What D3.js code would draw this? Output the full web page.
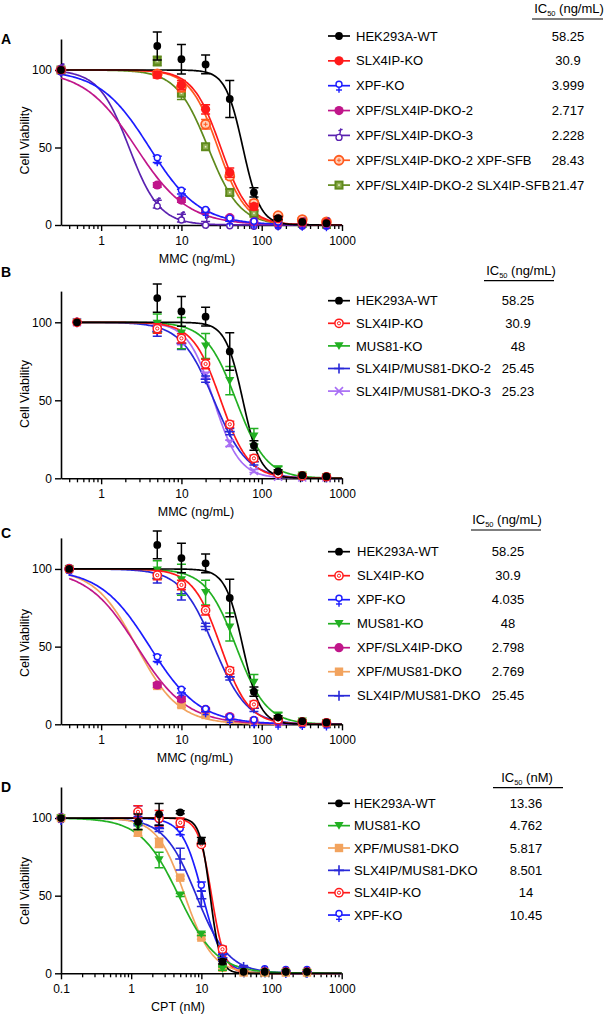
<!DOCTYPE html>
<html><head><meta charset="utf-8">
<script src="https://cdn.jsdelivr.net/npm/d3@7"></script>
<style>
body{margin:0;background:#fff}
svg{display:block}
text{font-family:"Liberation Sans",Arial,Helvetica,sans-serif;fill:#000}
</style>
</head><body>
<svg id="chart" width="606" height="1014"></svg>
<script>
// ---------------- DATA ----------------
// Panel A (MMC, ng/mL)
const doseA = [0.316, 5, 10, 20, 40, 80, 160, 320, 640];
const namesA = ["HEK293A-WT","SLX4IP-KO","XPF-KO","XPF/SLX4IP-DKO-2","XPF/SLX4IP-DKO-3","XPF/SLX4IP-DKO-2 XPF-SFB","XPF/SLX4IP-DKO-2 SLX4IP-SFB"];
const ic50A = [58.25, 30.9, 3.999, 2.717, 2.228, 28.43, 21.47];
const ic50TextA = ["58.25","30.9","3.999","2.717","2.228","28.43","21.47"];
const hillA = [4, 2.5, 1.4, 1.35, 2.3, 2.5, 2.2];
const valuesA = [
  [100, 115.5, 107, 103.6, 81.3, 21, 4.5, 2, 1.2],
  [100, 96.8, 90.3, 74.6, 33.8, 11.8, 4, 2, 1.5],
  [100, 42.4, 21.5, 9, 3.5, 1.5, 1, 0.8, 0.5],
  [100, 25.8, 16.1, 9, 4.7, 2.1, 1.2, 1, 0.8],
  [100, 13.5, 4.5, 1.2, 0.8, 0.5, 0.5, 0.5, 0.5],
  [100, 97.5, 89, 65, 31.5, 14, 6, 3.5, 2],
  [100, 105.8, 85, 50.5, 21, 7.5, 2.5, 1, 0.5]
];
const errorsA = [
  [0, 9, 9.5, 6, 12, 3, 1, 0.5, 0.5],
  [0, 2, 3, 3, 3, 2, 1, 0.5, 0.5],
  [1, 2, 1.5, 1, 1, 0.5, 0.5, 0.5, 0.5],
  [0, 1.5, 1.5, 1, 1, 0.5, 0.5, 0.5, 0.5],
  [0, 2.5, 2.5, 1, 0.5, 0.5, 0.5, 0.5, 0.5],
  [0, 2, 3, 3, 2, 2, 1, 1, 0.5],
  [0, 3, 4, 2, 2, 1.5, 1, 0.5, 0.5]
];

// Panel B (MMC, ng/mL)
const doseB = [0.5, 5, 10, 20, 40, 80, 160, 320, 640];
const namesB = ["HEK293A-WT","SLX4IP-KO","MUS81-KO","SLX4IP/MUS81-DKO-2","SLX4IP/MUS81-DKO-3"];
const ic50B = [58.25, 30.9, 48, 25.45, 25.23];
const ic50TextB = ["58.25","30.9","48","25.45","25.23"];
const hillB = [4, 2.5, 2.3, 2.1, 2.7];
const valuesB = [
  [100, 115.5, 107, 103.6, 81.3, 21, 4.5, 2, 1.2],
  [100, 96, 89.7, 73.3, 34.6, 12.8, 3, 1.5, 1],
  [100, 99.3, 93, 84.8, 62.6, 27, 6, 2, 1],
  [100, 94, 86.5, 63.5, 29.9, 10.6, 2.5, 1, 0.5],
  [100, 97, 88.6, 66, 22.4, 4.7, 1, 0.5, 0.5]
];
const errorsB = [
  [0, 9, 9.5, 6, 12, 3, 1, 0.5, 0.5],
  [0, 3, 3, 3, 2, 2, 1, 0.5, 0.5],
  [0, 6, 10, 8, 9, 5, 1.5, 1, 0.5],
  [0, 3, 4, 2, 2, 2, 1, 0.5, 0.5],
  [0, 2, 3, 2, 2, 1, 0.5, 0.5, 0.5]
];

// Panel C (MMC, ng/mL)
const doseC = [0.4, 5, 10, 20, 40, 80, 160, 320, 640];
const namesC = ["HEK293A-WT","SLX4IP-KO","XPF-KO","MUS81-KO","XPF/SLX4IP-DKO","XPF/MUS81-DKO","SLX4IP/MUS81-DKO"];
const ic50C = [58.25, 30.9, 4.035, 48, 2.798, 2.769, 25.45];
const ic50TextC = ["58.25","30.9","4.035","48","2.798","2.769","25.45"];
const hillC = [4, 2.5, 1.4, 2.3, 1.4, 1.65, 2.1];
const valuesC = [
  [100, 115.5, 107, 103.6, 81.3, 21, 4.5, 2, 1.2],
  [100, 96, 89.7, 73.3, 34.6, 12.8, 3, 1.5, 1],
  [100, 42.5, 21.6, 9, 4, 2, 1, 0.8, 0.5],
  [100, 99.3, 93, 84.8, 62.6, 27, 6, 2, 1],
  [100, 25.3, 16.3, 9.6, 5, 2.5, 1.5, 1, 0.8],
  [100, 24.7, 12.4, 6, 3, 2, 1.5, 1, 0.8],
  [100, 94, 84, 63, 30.5, 10.3, 2.5, 1, 0.5]
];
const errorsC = [
  [0, 9, 9.5, 6, 12, 3, 1, 0.5, 0.5],
  [0, 3, 3, 3, 2, 2, 1, 0.5, 0.5],
  [1, 2, 1.5, 1, 1, 0.5, 0.5, 0.5, 0.5],
  [0, 6, 10, 8, 9, 5, 1.5, 1, 0.5],
  [0, 1.5, 1.5, 1, 1, 0.5, 0.5, 0.5, 0.5],
  [0, 1.5, 1.5, 1, 1, 0.5, 0.5, 0.5, 0.5],
  [0, 3, 4, 2, 2, 2, 1, 0.5, 0.5]
];

// Panel D (CPT, nM)
const doseD = [0.1, 1.25, 2.5, 5, 10, 20, 40, 80, 160, 320];
const namesD = ["HEK293A-WT","MUS81-KO","XPF/MUS81-DKO","SLX4IP/MUS81-DKO","SLX4IP-KO","XPF-KO"];
const ic50D = [13.36, 4.762, 5.817, 8.501, 14, 10.45];
const ic50TextD = ["13.36","4.762","5.817","8.501","14","10.45"];
const hillD = [6, 1.6, 2.2, 1.9, 4.7, 3];
const valuesD = [
  [100, 97.6, 102.4, 103.7, 85.4, 7.5, 1, 1, 1, 1],
  [100, 94.4, 73, 50.4, 25.3, 3, 1, 0.5, 0.5, 0.5],
  [100, 90.5, 84, 61.6, 23, 3.6, 0.5, 0.5, 0.5, 0.5],
  [100, 98, 93.3, 73.6, 48, 10, 4, 2, 1.5, 1],
  [100, 104, 99.8, 97, 83, 15.5, 2, 1, 1, 1],
  [100, 102, 98, 92.3, 55.8, 15, 2, 2, 1.5, 1.5]
];
const errorsD = [
  [0, 5, 7, 1, 2, 1.5, 0.5, 0.5, 0.5, 0.5],
  [0, 2, 5, 1, 1, 1, 0.5, 0.5, 0.5, 0.5],
  [0, 2, 3, 1, 1, 1, 0.5, 0.5, 0.5, 0.5],
  [0, 3, 2, 7, 5, 2, 1, 0.5, 0.5, 0.5],
  [0, 4, 5, 3, 1, 2, 0.5, 0.5, 0.5, 0.5],
  [0, 6, 4, 3, 3, 2, 0.5, 0.5, 0.5, 0.5]
];

const xTicksMMC = [1, 10, 100, 1000];
const xTicksCPT = [0.1, 1, 10, 100, 1000];
const yTicks = [0, 50, 100];

// ---------------- STYLES ----------------
const colorsA = ["#000000","#ff1a1a","#1c1cff","#c0168a","#5a22b0","#ff5a1f","#5f8a1c"];
const markersA = ["dot","dotL","female","dotL","male","ringDot","squareDot"];
const colorsB = ["#000000","#ff1a1a","#22b022","#2828d8","#a86ef5"];
const markersB = ["dot","ringBar","tri","plus","x"];
const colorsC = ["#000000","#ff1a1a","#1c1cff","#22b022","#c0168a","#f2a35e","#2828d8"];
const markersC = ["dot","ringBar","female","tri","dotL","square","plus"];
const colorsD = ["#000000","#22b022","#f2a35e","#2828d8","#ff1a1a","#1c1cff"];
const markersD = ["dot","tri","square","plus","ringBar","female"];

// ---------------- LAYOUT ----------------
const panels = [
  {letter:"A", letterY:44, dose:doseA, names:namesA, ic50:ic50A, ic50Text:ic50TextA, hill:hillA, values:valuesA, errors:errorsA,
   colors:colorsA, markers:markersA, xDomain:[Math.pow(10,-0.5),1000], xRight:342, xTicks:xTicksMMC,
   y0:225, yTop:39, xTitle:"MMC (ng/mL)", xTitleX:197, yTitleY:140.5,
   unit:" (ng/mL)", headX:569, headY:13, lineX1:532, lineX2:603, lineY:19, valX:568, textX:356, legY0:36, legDy:24.85},
  {letter:"B", letterY:277, dose:doseB, names:namesB, ic50:ic50B, ic50Text:ic50TextB, hill:hillB, values:valuesB, errors:errorsB,
   colors:colorsB, markers:markersB, xDomain:[Math.pow(10,-0.5),1000], xRight:342, xTicks:xTicksMMC,
   y0:478.3, yTop:291.1, xTitle:"MMC (ng/mL)", xTitleX:196, yTitleY:394,
   unit:" (ng/mL)", headX:521, headY:275, lineX1:484, lineX2:554, lineY:280.7, valX:518, textX:356, legY0:300.7, legDy:22.6},
  {letter:"C", letterY:538, dose:doseC, names:namesC, ic50:ic50C, ic50Text:ic50TextC, hill:hillC, values:valuesC, errors:errorsC,
   colors:colorsC, markers:markersC, xDomain:[Math.pow(10,-0.5),1000], xRight:342, xTicks:xTicksMMC,
   y0:724.3, yTop:537.9, xTitle:"MMC (ng/mL)", xTitleX:195, yTitleY:643,
   unit:" (ng/mL)", headX:507, headY:524, lineX1:471, lineX2:541, lineY:530, valX:508, textX:357, legY0:551.7, legDy:24},
  {letter:"D", letterY:792, dose:doseD, names:namesD, ic50:ic50D, ic50Text:ic50TextD, hill:hillD, values:valuesD, errors:errorsD,
   colors:colorsD, markers:markersD, xDomain:[0.1,1000], xRight:341.7, xTicks:xTicksCPT,
   y0:973.3, yTop:787, xTitle:"CPT (nM)", xTitleX:178, yTitleY:891,
   unit:" (nM)", headX:527, headY:782, lineX1:493, lineX2:563, lineY:787.7, valX:526, textX:354, legY0:803.3, legDy:22.35}
];

const svg = d3.select("#chart");
const X0 = 61;

function marker(g, type, c, x, y) {
  const s = g.append("g").attr("transform", `translate(${x},${y})`);
  switch (type) {
    case "dot": s.append("circle").attr("r", 3.9).attr("fill", c); break;
    case "dotL": s.append("circle").attr("r", 4.6).attr("fill", c); break;
    case "ringBar":
      s.append("circle").attr("r", 4.1).attr("fill", "#fff").attr("stroke", c).attr("stroke-width", 1.5);
      s.append("circle").attr("r", 1.6).attr("fill", "none").attr("stroke", c).attr("stroke-width", 1);
      break;
    case "ringDot":
      s.append("circle").attr("r", 4.5).attr("fill", "#ffd0b8").attr("stroke", c).attr("stroke-width", 1.8);
      s.append("line").attr("x1", -2).attr("x2", 2).attr("stroke", c).attr("stroke-width", 1);
      s.append("line").attr("y1", -2).attr("y2", 2).attr("stroke", c).attr("stroke-width", 1);
      break;
    case "female":
      s.append("circle").attr("cy", -1.5).attr("r", 3).attr("fill", "#fff").attr("stroke", c).attr("stroke-width", 1.4);
      s.append("line").attr("y1", 1.5).attr("y2", 7).attr("stroke", c).attr("stroke-width", 1.4);
      s.append("line").attr("x1", -3).attr("x2", 3).attr("y1", 4.3).attr("y2", 4.3).attr("stroke", c).attr("stroke-width", 1.4);
      break;
    case "male":
      s.append("circle").attr("cy", 2).attr("r", 3).attr("fill", "#fff").attr("stroke", c).attr("stroke-width", 1.4);
      s.append("path").attr("d", "M0.8,-1 L1.8,-7 M-0.6,-4.8 L3.6,-6").attr("stroke", c).attr("stroke-width", 1.4).attr("fill", "none");
      break;
    case "squareDot":
      s.append("rect").attr("x", -4.5).attr("y", -4.5).attr("width", 9).attr("height", 9).attr("fill", c);
      s.append("rect").attr("x", -2.5).attr("y", -2.5).attr("width", 5).attr("height", 5).attr("fill", "#8fae50");
      s.append("rect").attr("x", -0.8).attr("y", -0.8).attr("width", 1.6).attr("height", 1.6).attr("fill", "#e8f0d0");
      break;
    case "square":
      s.append("rect").attr("x", -4.2).attr("y", -4.2).attr("width", 8.4).attr("height", 8.4).attr("fill", c);
      break;
    case "tri":
      s.append("path").attr("d", "M-4.6,-3.6 L4.6,-3.6 L0,4.2 Z").attr("fill", c);
      break;
    case "plus":
      s.append("path").attr("d", "M-5,0 L5,0 M0,-5 L0,5").attr("stroke", c).attr("stroke-width", 1.6);
      break;
    case "x":
      s.append("path").attr("d", "M-4,-4 L4,4 M-4,4 L4,-4").attr("stroke", c).attr("stroke-width", 1.6);
      break;
  }
}

panels.forEach(p => {
  const x = d3.scaleLog().domain(p.xDomain).range([X0, p.xRight]);
  const y = d3.scaleLinear().domain([0, 120]).range([p.y0, p.yTop]);
  const g = svg.append("g");

  // panel letter
  g.append("text").attr("x", 1).attr("y", p.letterY).attr("font-size", 14).attr("font-weight", "bold").text(p.letter);

  // minor ticks
  const lo = Math.log10(p.xDomain[0]);
  const minor = [];
  for (let e = Math.floor(lo); e < 3; e++) {
    for (let k = 2; k <= 9; k++) {
      const v = k * Math.pow(10, e);
      if (v > p.xDomain[0] * 1.001 && v < 1000) minor.push(v);
    }
  }
  const minorAxis = d3.axisBottom(x).tickValues(minor).tickSize(4).tickSizeOuter(0).tickFormat("");
  const ma = g.append("g").attr("transform", `translate(0,${p.y0})`).call(minorAxis);
  ma.select(".domain").remove();
  ma.selectAll("line").attr("stroke", "#000").attr("stroke-width", 1.3);

  const xAxis = d3.axisBottom(x).tickValues(p.xTicks).tickSize(6).tickSizeOuter(0).tickPadding(5)
    .tickFormat(d => String(d));
  const xa = g.append("g").attr("transform", `translate(0,${p.y0})`).call(xAxis);
  xa.select(".domain").attr("stroke", "#000").attr("stroke-width", 1.6);
  xa.selectAll("line").attr("stroke", "#000").attr("stroke-width", 1.4);
  xa.selectAll("text").attr("font-size", 12).attr("fill", "#000").attr("font-family", "Liberation Sans, Arial, sans-serif");

  const yAxis = d3.axisLeft(y).tickValues(yTicks).tickSize(6).tickSizeOuter(0).tickPadding(3);
  const ya = g.append("g").attr("transform", `translate(${X0},0)`).call(yAxis);
  ya.select(".domain").attr("stroke", "#000").attr("stroke-width", 1.6);
  ya.selectAll("line").attr("stroke", "#000").attr("stroke-width", 1.4);
  ya.selectAll("text").attr("font-size", 12).attr("fill", "#000").attr("font-family", "Liberation Sans, Arial, sans-serif");

  // axis titles
  g.append("text").attr("x", p.xTitleX).attr("y", p.y0 + 37.5).attr("text-anchor", "middle").attr("font-size", 12.5).text(p.xTitle);
  g.append("text").attr("transform", `translate(29,${p.yTitleY}) rotate(-90)`).attr("text-anchor", "middle").attr("font-size", 12.5).text("Cell Viability");

  // series drawn in reverse order so that the first is on top
  const idx = d3.range(p.names.length).reverse();
  const line = d3.line().x(d => x(d[0])).y(d => y(d[1]));
  idx.forEach(i => {
    const c = p.colors[i];
    const lx0 = Math.log10(p.dose[0]), lx1 = 3;
    const pts = d3.range(0, 241).map(k => {
      const xv = Math.pow(10, lx0 + (lx1 - lx0) * k / 240);
      return [xv, 100 / (1 + Math.pow(xv / p.ic50[i], p.hill[i]))];
    });
    g.append("path").attr("d", line(pts)).attr("fill", "none").attr("stroke", c).attr("stroke-width", 1.7);
  });
  idx.forEach(i => {
    const c = p.colors[i];
    p.dose.forEach((dv, j) => {
      const v = p.values[i][j], e = p.errors[i][j];
      const px = x(dv);
      if (e >= 1) {
        const y1 = y(v + e), y2 = y(Math.max(0, v - e));
        g.append("path").attr("d", `M${px},${y1} L${px},${y2} M${px - 4.5},${y1} L${px + 4.5},${y1} M${px - 4.5},${y2} L${px + 4.5},${y2}`)
          .attr("stroke", c).attr("stroke-width", 1.5).attr("fill", "none");
      }
      marker(g, p.markers[i], c, px, y(v));
    });
  });

  // legend header
  const h = g.append("text").attr("x", p.headX).attr("y", p.headY).attr("text-anchor", "middle").attr("font-size", 13);
  h.append("tspan").text("IC");
  h.append("tspan").attr("font-size", 7.5).attr("dy", 3).text("50");
  h.append("tspan").attr("dy", -3).text(p.unit);
  g.append("line").attr("x1", p.lineX1).attr("x2", p.lineX2).attr("y1", p.lineY).attr("y2", p.lineY).attr("stroke", "#000").attr("stroke-width", 1.2);

  p.names.forEach((n, i) => {
    const ly = p.legY0 + i * p.legDy;
    const c = p.colors[i];
    g.append("line").attr("x1", 328).attr("x2", 350).attr("y1", ly).attr("y2", ly).attr("stroke", c).attr("stroke-width", 1.7);
    marker(g, p.markers[i], c, 339, ly);
    g.append("text").attr("x", p.textX).attr("y", ly + 4.6).attr("font-size", 13).text(n);
    g.append("text").attr("x", p.valX).attr("y", ly + 4.6).attr("text-anchor", "middle").attr("font-size", 13).text(p.ic50Text[i]);
  });
});
</script>
</body></html>
